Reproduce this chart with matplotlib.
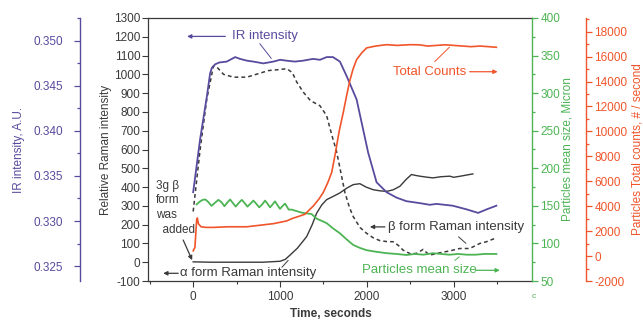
import matplotlib
matplotlib.use('Agg')
import matplotlib.pyplot as plt
from matplotlib.ticker import MultipleLocator, FormatStrFormatter

plt.rcParams['font.family'] = ['Liberation Sans', 'DejaVu Sans']
plt.rcParams['axes.unicode_minus'] = False

# colours
purple = '#5a4a9e'
green = '#4db454'
red = '#f0552b'
gray = '#3a3a3a'

# IR intensity (left outer axis)
ir_t = [0, 80, 157, 195, 215, 253, 300, 387, 483, 540, 620, 693, 808, 923, 1000, 1077,
        1170, 1264, 1379, 1460, 1536, 1609, 1689, 1766, 1881, 2014, 2111, 2226, 2340,
        2455, 2600, 2723, 2800, 2987, 3145, 3280, 3380, 3490]
ir_v = [0.3332, 0.3391, 0.3438, 0.3464, 0.3470, 0.3474, 0.3476, 0.3477, 0.3482, 0.3480,
        0.3478, 0.3477, 0.3475, 0.3477, 0.3479, 0.3478, 0.3477, 0.3478, 0.3480, 0.3479,
        0.3482, 0.3482, 0.3477, 0.3461, 0.3435, 0.3376, 0.3343, 0.3332, 0.3326, 0.3322,
        0.3320, 0.3318, 0.3319, 0.3317, 0.3313, 0.3309, 0.3313, 0.3317]

# dashed Raman curve
beta_t = [0, 80, 157, 234, 272, 350, 463, 617, 760, 865, 980, 1077, 1140, 1191, 1268,
          1350, 1459, 1536, 1594, 1650, 1690, 1747, 1800, 1842, 1920, 1996, 2072, 2149,
          2226, 2302, 2360, 2417, 2500, 2570, 2647, 2690, 2723, 2838, 2950, 3068, 3183,
          3300, 3375, 3490]
beta_v = [270, 600, 870, 1045, 1039, 1000, 985, 985, 1005, 1020, 1025, 1030, 1010, 960,
          905, 860, 833, 780, 680, 590, 500, 370, 290, 243, 185, 154, 130, 115, 110, 109,
          90, 64, 45, 47, 68, 50, 38, 50, 60, 73, 73, 100, 109, 130]

# solid Raman curve
alpha_t = [0, 200, 500, 800, 1000, 1060, 1115, 1200, 1306, 1370, 1421, 1480, 1536, 1610,
           1689, 1770, 1842, 1919, 1990, 2072, 2150, 2226, 2300, 2379, 2450, 2513, 2560,
           2609, 2700, 2762, 2850, 2953, 3000, 3100, 3183, 3220]
alpha_v = [2, 0, 0, 0, 5, 15, 38, 75, 136, 200, 261, 305, 333, 350, 369, 395, 413, 418,
           400, 386, 380, 377, 385, 404, 440, 467, 462, 458, 452, 449, 455, 458, 452, 460,
           467, 470]

# total counts (right outer axis)
cnt_t = [0, 20, 30, 40, 48, 60, 90, 150, 233, 400, 617, 800, 923, 1077, 1134, 1230, 1287,
         1383, 1450, 1497, 1550, 1594, 1630, 1680, 1727, 1770, 1804, 1840, 1881, 1940,
         1996, 2100, 2226, 2350, 2493, 2600, 2700, 2800, 2900, 3000, 3100, 3200, 3300,
         3400, 3490]
cnt_v = [420, 700, 1800, 2900, 3050, 2600, 2350, 2300, 2300, 2350, 2350, 2500, 2600,
         2820, 3000, 3220, 3360, 4020, 4600, 5100, 5900, 6700, 8000, 10000, 11500, 13000,
         14100, 15000, 15760, 16300, 16700, 16850, 16960, 16900, 16960, 16950, 16850,
         16900, 16950, 16900, 16850, 16800, 16850, 16800, 16750]

# particle mean size (green axis)
size_t = [40, 80, 110, 140, 175, 210, 250, 290, 325, 360, 390, 425, 455, 490, 525, 560,
          590, 625, 660, 693, 725, 760, 795, 827, 855, 885, 915, 942, 970, 1000, 1030,
          1057, 1100, 1134, 1191, 1249, 1306, 1364, 1421, 1480, 1536, 1610, 1689, 1760,
          1842, 1920, 1996, 2100, 2226, 2340, 2455, 2550, 2650, 2760, 2850, 2950, 3050,
          3150, 3250, 3350, 3490]
size_v = [152, 156, 158, 158.5, 155, 150, 154, 158, 155, 149.5, 154, 158.5, 154, 149,
          154, 158, 154, 149, 153, 157, 153, 148, 152, 157, 153, 148, 152, 156, 151, 146,
          150, 153, 145, 145, 143, 141, 140, 139, 133, 130, 127, 120, 113.5, 106, 98, 94,
          91, 89, 87, 86, 84.6, 86, 85, 87, 86, 85, 86, 85, 85, 86, 86]

fig = plt.figure(figsize=(6.43, 3.21), dpi=100)
ax = fig.add_axes([148 / 643, 1 - 281 / 321, 384 / 643, 263 / 321])
ax_ir = ax.twinx()
ax_sz = ax.twinx()
ax_ct = ax.twinx()

# main axis (Raman)
ax.plot(alpha_t, alpha_v, color=gray, lw=1.0)
ax.plot(beta_t, beta_v, color=gray, lw=1.1, ls=(0, (2.5, 2)))
ax.set_xlim(-520, 3900)
ax.set_ylim(-100, 1300)
ax.xaxis.set_major_locator(MultipleLocator(1000))
ax.xaxis.set_minor_locator(MultipleLocator(500))
ax.yaxis.set_major_locator(MultipleLocator(100))
ax.tick_params(axis='both', which='major', direction='out', length=4, width=0.8,
               labelsize=8.5, colors=gray, pad=1.5)
ax.tick_params(axis='x', which='minor', direction='out', length=2.5, width=0.8, colors=gray)
ax.tick_params(axis='x', pad=3)
for s in ['left', 'bottom', 'top']:
    ax.spines[s].set_color(gray)
    ax.spines[s].set_linewidth(0.9)
ax.spines['right'].set_visible(False)
ax.set_ylabel('Relative Raman intensity', fontsize=8.5, color=gray)
ax.yaxis.set_label_coords(-0.094, 0.5)
ax.set_xlabel('Time, seconds', fontsize=8.5, fontweight='bold', color=gray)
ax.xaxis.set_label_coords(0.477, -0.104)

# IR axis (spine 68 px left of the main spine)
ax_ir.plot(ir_t, ir_v, color=purple, lw=1.3)
ax_ir.set_ylim(0.32334, 0.35254)
ax_ir.yaxis.set_ticks_position('left')
ax_ir.yaxis.set_label_position('left')
ax_ir.spines['left'].set_position(('outward', 68 * 0.72))
ax_ir.spines['left'].set_color(purple)
ax_ir.spines['left'].set_linewidth(1.0)
for s in ['right', 'top', 'bottom']:
    ax_ir.spines[s].set_visible(False)
ax_ir.yaxis.set_major_locator(MultipleLocator(0.005))
ax_ir.yaxis.set_minor_locator(MultipleLocator(0.0025))
ax_ir.yaxis.set_major_formatter(FormatStrFormatter('%.3f'))
ax_ir.tick_params(axis='y', which='major', length=4, width=0.9, colors=purple,
                  labelsize=8.5, pad=8)
ax_ir.tick_params(axis='y', which='minor', length=2.5, width=0.9, colors=purple)
ax_ir.set_ylabel('IR intensity, A.U.', fontsize=8.5, color=purple)
ax_ir.yaxis.set_label_coords(-0.320, 0.5)

# size axis
ax_sz.plot(size_t, size_v, color=green, lw=1.3)
ax_sz.set_ylim(50, 400)
for s in ['left', 'top', 'bottom']:
    ax_sz.spines[s].set_visible(False)
ax_sz.spines['right'].set_color(green)
ax_sz.spines['right'].set_linewidth(1.0)
ax_sz.yaxis.set_major_locator(MultipleLocator(50))
ax_sz.yaxis.set_minor_locator(MultipleLocator(25))
ax_sz.tick_params(axis='y', which='major', length=4, width=0.9, colors=green,
                  labelsize=8.5, pad=2)
ax_sz.tick_params(axis='y', which='minor', length=2.5, width=0.9, colors=green)
ax_sz.set_ylabel('Particles mean size, Micron', fontsize=8.5, color=green)
ax_sz.yaxis.set_label_coords(1.078, 0.5)

# counts axis (spine 54 px right of the main spine)
ax_ct.plot(cnt_t, cnt_v, color=red, lw=1.2)
ax_ct.set_ylim(-2000, 19100)
for s in ['left', 'top', 'bottom']:
    ax_ct.spines[s].set_visible(False)
ax_ct.spines['right'].set_position(('outward', 54 * 0.72))
ax_ct.spines['right'].set_color(red)
ax_ct.spines['right'].set_linewidth(1.0)
ax_ct.yaxis.set_major_locator(MultipleLocator(2000))
ax_ct.yaxis.set_minor_locator(MultipleLocator(1000))
ax_ct.tick_params(axis='y', which='major', length=4, width=0.9, colors=red,
                  labelsize=8.5, pad=2)
ax_ct.tick_params(axis='y', which='minor', length=2.5, width=0.9, colors=red)
ax_ct.set_ylabel('Particles Total counts, # / second', fontsize=8.5, color=red)
ax_ct.yaxis.set_label_coords(1.260, 0.5)

# annotations (drawn on the top axis so they sit over the curves)
at = ax_ct
tr = ax.transData
fs = 9.5
arrow = dict(arrowstyle='-|>', lw=0.9, mutation_scale=6, shrinkA=0, shrinkB=0)

at.text(448, 1202, 'IR intensity', transform=tr, fontsize=fs, color=purple,
        va='center', ha='left')
at.annotate('', xy=(-70, 1202), xytext=(370, 1202), xycoords=tr, textcoords=tr,
            arrowprops=dict(arrow, color=purple))
at.annotate('', xy=(919, 1073), xytext=(747, 1175), xycoords=tr, textcoords=tr,
            arrowprops=dict(arrowstyle='-', color=purple, lw=0.7))

at.text(2298, 1014, 'Total Counts', transform=tr, fontsize=fs, color=red,
        va='center', ha='left')
at.annotate('', xy=(3504, 1014), xytext=(3183, 1014), xycoords=tr, textcoords=tr,
            arrowprops=dict(arrow, color=red))
at.annotate('', xy=(2972, 1155), xytext=(2757, 1057), xycoords=tr, textcoords=tr,
            arrowprops=dict(arrowstyle='-', color=red, lw=0.7))

at.text(-430, 440, '3g \u03b2\nform\nwas\n  added', transform=tr, fontsize=8.5,
        color=gray, va='top', ha='left', linespacing=1.3)
at.annotate('', xy=(-12, 11), xytext=(-115, 118), xycoords=tr, textcoords=tr,
            arrowprops=dict(arrow, color=gray))

at.text(-150, -59, '\u03b1 form Raman intensity', transform=tr, fontsize=fs,
        color=gray, va='center', ha='left')
at.annotate('', xy=(-345, -59), xytext=(-172, -59), xycoords=tr, textcoords=tr,
            arrowprops=dict(arrow, color=gray))
at.annotate('', xy=(1115, 21), xytext=(1000, -38), xycoords=tr, textcoords=tr,
            arrowprops=dict(arrowstyle='-', color=gray, lw=0.7))

at.text(2240, 188, '\u03b2 form Raman intensity', transform=tr, fontsize=fs,
        color=gray, va='center', ha='left')
at.annotate('', xy=(2034, 188), xytext=(2207, 188), xycoords=tr, textcoords=tr,
            arrowprops=dict(arrow, color=gray))
at.annotate('', xy=(3163, 91), xytext=(3030, 145), xycoords=tr, textcoords=tr,
            arrowprops=dict(arrowstyle='-', color=gray, lw=0.7))

at.text(1942, -43, 'Particles mean size', transform=tr, fontsize=fs, color=green,
        va='center', ha='left')
at.annotate('', xy=(3530, -43), xytext=(3250, -43), xycoords=tr, textcoords=tr,
            arrowprops=dict(arrow, color=green))
at.annotate('', xy=(3087, 38), xytext=(2988, 0), xycoords=tr, textcoords=tr,
            arrowprops=dict(arrowstyle='-', color=green, lw=0.7))

fig.text(534 / 643, 1 - 297 / 321, 'c', fontsize=6, color=green, ha='center', va='center')

fig.savefig('out.png', dpi=100)
